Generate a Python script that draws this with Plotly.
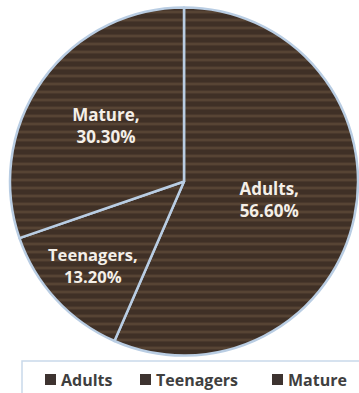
import plotly.graph_objects as go

labels = ["Adults", "Teenagers", "Mature"]
values = [56.6, 13.2, 30.3]

W, H = 359, 393

fig = go.Figure()
fig.add_trace(go.Pie(
    labels=labels,
    values=values,
    sort=False,
    direction="clockwise",
    rotation=0,
    texttemplate="<b>%{label},</b><br><b>%{value:.2f}%</b>",
    textposition="inside",
    insidetextorientation="horizontal",
    textfont=dict(family="Open Sans", size=17, color="#f4efe8"),
    marker=dict(
        colors=["#45352a", "#45352a", "#45352a"],
        line=dict(color="#b9cde3", width=2.5),
        pattern=dict(shape="-", fgcolor="#574434", bgcolor="#3f3026", size=8, solidity=0.35),
    ),
    domain=dict(x=[10 / W, 358 / W], y=[1 - 356 / H, 1 - 7 / H]),
    hoverinfo="skip",
    showlegend=False,
))

# legend frame
fig.add_shape(type="rect", xref="paper", yref="paper",
              x0=22 / W, x1=1.02, y0=-0.05, y1=1 - 361 / H,
              line=dict(color="#c9d9ea", width=1.5), fillcolor="rgba(0,0,0,0)", layer="below")

# legend entries (square swatch + bold label)
leg_x = [45, 140, 272]
for lab, lx in zip(labels, leg_x):
    fig.add_shape(type="rect", xref="paper", yref="paper",
                  x0=lx / W, x1=(lx + 11) / W, y0=1 - 385 / H, y1=1 - 374 / H,
                  line=dict(width=0), fillcolor="#3d3330")
    fig.add_annotation(xref="paper", yref="paper", x=(lx + 14) / W, y=1 - 380 / H,
                       xanchor="left", yanchor="middle", showarrow=False, text="<b>" + lab + "</b>",
                       font=dict(family="Open Sans", size=16, color="#3f3f3f"))

fig.update_layout(
    width=W, height=H,
    margin=dict(l=0, r=0, t=0, b=0),
    paper_bgcolor="white",
    plot_bgcolor="white",
    showlegend=False,
)

fig.write_html("out.html")
